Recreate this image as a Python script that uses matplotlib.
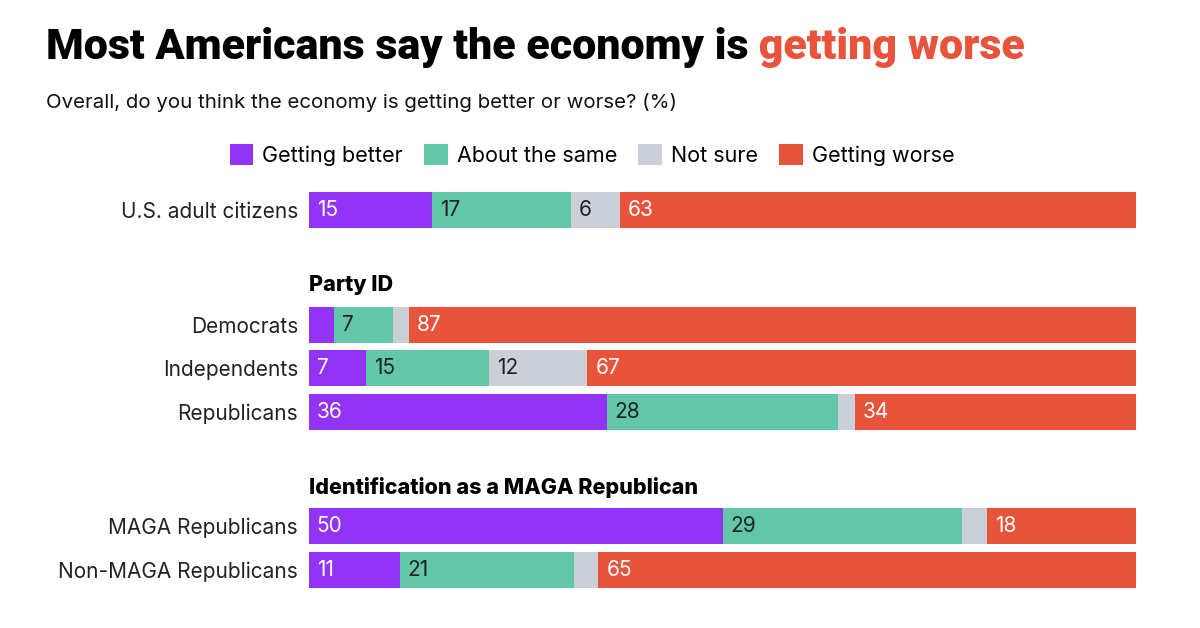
import numpy as np
import matplotlib.pyplot as plt
from matplotlib.patches import Patch

# data
groups = ["U.S. adult citizens", "Democrats", "Independents", "Republicans",
          "MAGA Republicans", "Non-MAGA Republicans"]
series = ["Getting better", "About the same", "Not sure", "Getting worse"]
better = [15, 3, 7, 36, 50, 11]
same = [17, 7, 15, 28, 29, 21]
not_sure = [6, 2, 12, 2, 3, 3]
worse = [63, 87, 67, 34, 18, 65]
sections = ["Party ID", "Identification as a MAGA Republican"]

colors = ["#9333F5", "#62C6A8", "#CBCFD8", "#E8533B"]
text_cols = ["white", "#222222", "#222222", "white"]

rows = [0, 2.64, 3.64, 4.64, 7.27, 8.28]   # vertical positions of rows
head_rows = [1.72, 6.39]

plt.rcParams['font.family'] = ['Inter', 'DejaVu Sans']

W, H = 1200, 628
fig = plt.figure(figsize=(W / 100, H / 100), dpi=100)

# axes mapped so that row 0 sits at y=210px, pitch 43.5px
top_px, bot_px = 180, 600
ax = fig.add_axes([309 / W, 1 - bot_px / H, (1136 - 309) / W, (bot_px - top_px) / H])
ax.set_xlim(0, 100)
ax.set_ylim((bot_px - 210) / 43.5, (top_px - 210) / 43.5)

vals = np.array([better, same, not_sure, worse], dtype=float)
pct = vals / vals.sum(axis=0) * 100
left = np.zeros(len(groups))
for i in range(4):
    ax.barh(rows, pct[i], left=left, height=0.83, color=colors[i], linewidth=0)
    for j, r in enumerate(rows):
        if vals[i, j] > 3:
            ax.text(left[j] + 0.95, r, f"{int(vals[i, j])}", va='center', ha='left',
                    color=text_cols[i], fontsize=15)
    left += pct[i]

ax.set_yticks(rows)
ax.set_yticklabels(groups, fontsize=15, color="#222222")
ax.tick_params(axis='y', length=0, pad=8)
ax.set_xticks([])
for s in ax.spines.values():
    s.set_visible(False)

for name, r in zip(sections, head_rows):
    ax.text(0, r, name, fontsize=15.5, fontweight='heavy', va='center', ha='left', color='black')

# title in two colours
t1 = fig.text(46 / W, 1 - 47 / H, "Most Americans say the economy is", fontsize=31,
              fontweight='black', va='center', ha='left', color='black', family='Roboto')
fig.canvas.draw()
ax.annotate(" getting worse", xy=(1, 0), xycoords=t1, va='bottom', ha='left', family='Roboto',
            fontsize=31, fontweight='black', color="#E8533B", annotation_clip=False)

fig.text(46 / W, 1 - 103 / H, "Overall, do you think the economy is getting better or worse? (%)",
         fontsize=14.7, va='center', ha='left', color='#111111')

handles = [Patch(facecolor=c, edgecolor='none') for c in colors]
fig.legend(handles, series, loc='center', bbox_to_anchor=(592 / W, 1 - 155 / H), ncol=4,
           frameon=False, fontsize=15.5, handlelength=1.1, handleheight=1.1,
           handletextpad=0.4, columnspacing=1.0, borderaxespad=0, borderpad=0)

fig.savefig("out.png", dpi=100)
